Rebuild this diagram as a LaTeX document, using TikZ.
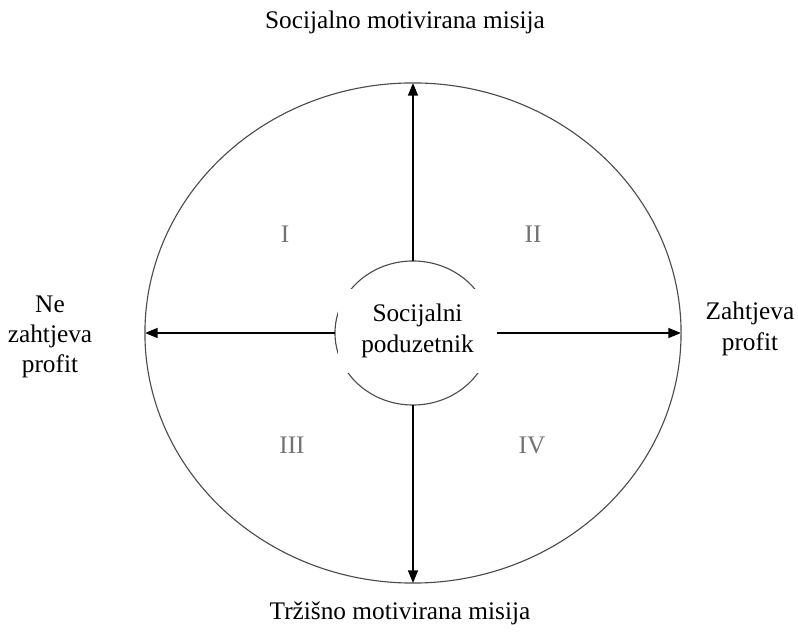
\documentclass[tikz,border=0pt]{standalone}
\usepackage{fontspec}
\setmainfont{Liberation Serif}
\usetikzlibrary{arrows.meta}
\usetikzlibrary{shapes.geometric}
\definecolor{rimgray}{rgb}{0.30,0.30,0.30}
\definecolor{quadgray}{rgb}{0.45,0.45,0.45}
\tikzset{
  axis/.style={-{Triangle[length=9pt,width=7pt]},line width=1.2pt,black},
  ring/.style={draw=rimgray,line width=0.8pt,ellipse,inner sep=0pt,outer sep=0pt},
  caption/.style={font=\fontsize{18}{21.5}\selectfont,align=center,inner sep=0pt},
  quadrant/.style={font=\fontsize{18}{21.5}\selectfont,text=quadgray,inner sep=0pt}
}

\begin{document}
\begin{tikzpicture}[x=0.025cm,y=0.025cm]
\useasboundingbox (0,0) rectangle (798,633);

%% circles
\node [ring,minimum width=13.4cm,minimum height=12.5cm] (outer) at (413,300) {};
\node [ring,minimum width=3.9cm,minimum height=3.6cm] (core) at (413,300) {};
\node [caption,fill=white,minimum width=3.975cm,minimum height=2.1cm] (entrepreneur) at (417.5,302) {Socijalni\\poduzetnik};

%% axes
\draw [axis] (core.north) -- (outer.north);
\draw [axis] (core.south) -- (outer.south);
\draw [axis] (core.west) -- (outer.west);
\draw [axis] (entrepreneur.east |- outer.east) -- (outer.east);

%% side labels
\node [caption] (social)  at (405,611) {Socijalno motivirana misija};
\node [caption] (market)  at (400,20)  {Tržišno motivirana misija};
\node [caption] (noprofit) at (50,296) {Ne\\zahtjeva\\profit};
\node [caption] (profit)  at (750,304) {Zahtjeva\\profit};

%% quadrants
\node [quadrant] (q1) at (285,399) {I};
\node [quadrant] (q2) at (533,399) {II};
\node [quadrant] (q3) at (292,188) {III};
\node [quadrant] (q4) at (532,188) {IV};

\end{tikzpicture}
\end{document}
